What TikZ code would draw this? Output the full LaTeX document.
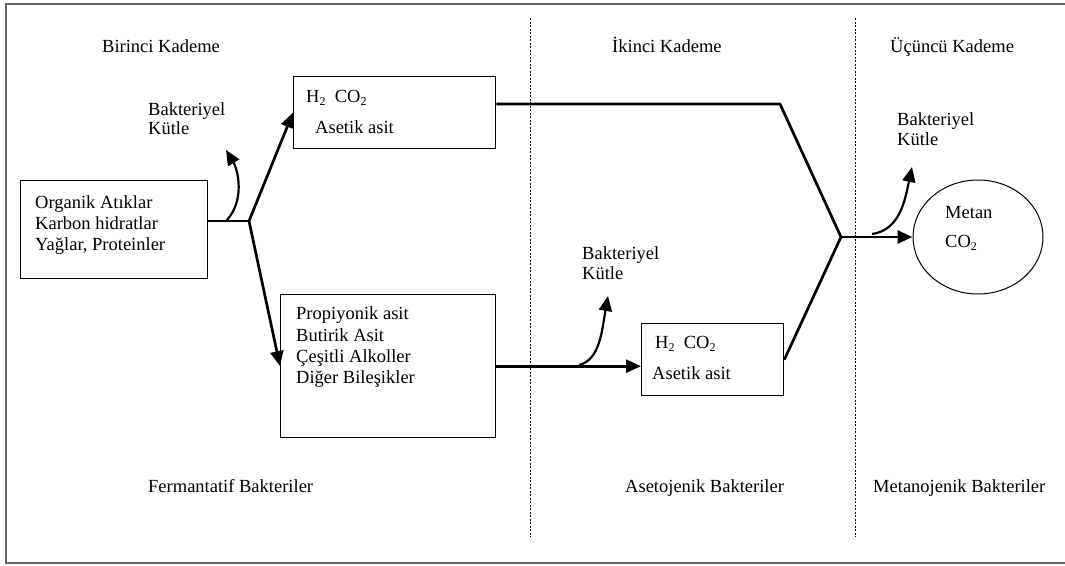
\documentclass[tikz,border=0pt]{standalone}
\usepackage{fontspec}
\setmainfont{Liberation Serif}
\usetikzlibrary{arrows.meta,shapes.geometric}
\newcommand{\subtwo}{\raisebox{-0.4ex}{\fontsize{12}{12}\selectfont 2}}
\begin{document}
\begin{tikzpicture}[x=1pt,y=-1pt,
  txt/.style={anchor=base west,inner sep=0pt,font=\fontsize{18.5}{21}\selectfont},
  boxx/.style={draw,line width=1.3pt,anchor=north west,inner sep=0pt},
  flow/.style={line width=2.7pt},
  arr/.style={line width=2.7pt,-{Triangle[length=15pt,width=13pt]}},
  carr/.style={line width=2.2pt,-{Triangle[length=15pt,width=13pt]}},
  divider/.style={line width=0.9pt,dash pattern=on 2pt off 1.5pt}]
\useasboundingbox (0,0) rectangle (1065,565);
% frame
\draw[line width=1.8pt,black!60] (1066,4) -- (6,4) -- (6,563) -- (1066,563);
% dividers
\coordinate (d1t) at (530,18); \coordinate (d1b) at (530,537);
\coordinate (d2t) at (855,18); \coordinate (d2b) at (855,537);
\draw[divider] (d1t) -- (d1b);
\draw[divider] (d2t) -- (d2b);
% headings
\node[txt] (h1) at (102,52) {Birinci Kademe};
\node[txt] (h2) at (612,52) {İkinci Kademe};
\node[txt] (h3) at (890,52) {Üçüncü Kademe};
\node[txt] (f1) at (148,492) {Fermantatif Bakteriler};
\node[txt] (f2) at (625,492) {Asetojenik Bakteriler};
\node[txt] (f3) at (873,492) {Metanojenik Bakteriler};
% boxes
\node[boxx,minimum width=187pt,minimum height=98pt] (org) at (20,180) {};
\node[boxx,minimum width=202pt,minimum height=72pt] (top) at (293,76) {};
\node[boxx,minimum width=215pt,minimum height=143pt] (prop) at (280,294) {};
\node[boxx,minimum width=142pt,minimum height=72pt] (b2) at (641,323) {};
\node[draw,line width=1pt,ellipse,minimum width=130pt,minimum height=114pt,inner sep=0pt] (met) at (978,237) {};
% box texts
\node[txt] (o1) at (35,208) {Organik Atıklar};
\node[txt] (o2) at (35,229) {Karbon hidratlar};
\node[txt] (o3) at (35,250) {Yağlar, Proteinler};
\node[txt] (t1) at (306,102) {H\subtwo\ \ CO\subtwo};
\node[txt] (t2) at (315,133) {Asetik asit};
\node[txt] (p1) at (296,319) {Propiyonik asit};
\node[txt] (p2) at (296,341) {Butirik Asit};
\node[txt] (p3) at (296,362) {Çeşitli Alkoller};
\node[txt] (p4) at (296,383) {Diğer Bileşikler};
\node[txt] (s1) at (655,348) {H\subtwo\ \ CO\subtwo};
\node[txt] (s2) at (652,379) {Asetik asit};
\node[txt] (m1) at (945,218) {Metan};
\node[txt] (m2) at (945,247) {CO\subtwo};
% bacterial mass labels
\node[txt] (bk1) at (148,115) {Bakteriyel};
\node[txt] (bk1b) at (148,134) {Kütle};
\node[txt] (bk2) at (582,259) {Bakteriyel};
\node[txt] (bk2b) at (582,279) {Kütle};
\node[txt] (bk3) at (897,125) {Bakteriyel};
\node[txt] (bk3b) at (897,145) {Kütle};
% junctions
\coordinate (j1) at (249,221);
\coordinate (c1) at (780,104);
\coordinate (j2) at (841,237);
\coordinate (cb1) at (227,220);
\coordinate (tb1) at (226,150);
\coordinate (cb2) at (579,365);
\coordinate (tb2) at (608,296);
\coordinate (cb3) at (872,234);
\coordinate (tb3) at (912,167);
% connectors
\draw[flow] (org.east |- j1) -- (j1);
\draw[arr] (j1) -- (top.west);
\draw[arr] (j1) -- (prop.west);
\draw[flow,line join=round] (top.east |- c1) -- (c1) -- (j2);
\draw[arr] (prop.east) -- (prop.east -| b2.west);
\draw[flow] (b2.east) -- (j2);
\draw[arr] (j2) -- (met.west);
\draw[carr] (cb1) .. controls (245,200) and (238,170) .. (tb1);
\draw[carr] (cb2) .. controls (600,360) and (602,330) .. (tb2);
\draw[carr] (cb3) .. controls (900,230) and (905,200) .. (tb3);
\end{tikzpicture}
\end{document}
